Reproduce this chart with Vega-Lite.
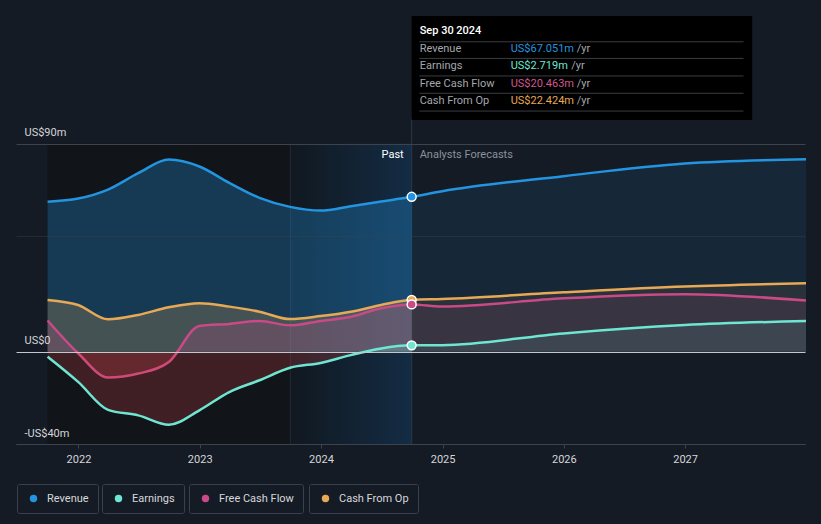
{
  "$schema": "https://vega.github.io/schema/vega-lite/v6.json",
  "width": 789,
  "height": 429,
  "autosize": {"type": "none"},
  "padding": {"left": 16, "top": 15, "right": 16, "bottom": 80},
  "background": "#151b25",
  "data": {"values": [
    {"date": "2021-09-30", "series": "Revenue", "value": 64.9},
    {"date": "2021-12-31", "series": "Revenue", "value": 66.3},
    {"date": "2022-03-31", "series": "Revenue", "value": 70.2},
    {"date": "2022-06-30", "series": "Revenue", "value": 77.3},
    {"date": "2022-09-30", "series": "Revenue", "value": 83.2},
    {"date": "2022-12-31", "series": "Revenue", "value": 80.2},
    {"date": "2023-03-31", "series": "Revenue", "value": 73.1},
    {"date": "2023-06-30", "series": "Revenue", "value": 66.6},
    {"date": "2023-09-30", "series": "Revenue", "value": 62.7},
    {"date": "2023-12-31", "series": "Revenue", "value": 61.1},
    {"date": "2024-03-31", "series": "Revenue", "value": 63.0},
    {"date": "2024-06-30", "series": "Revenue", "value": 65.0},
    {"date": "2024-09-30", "series": "Revenue", "value": 67.051},
    {"date": "2024-12-31", "series": "Revenue", "value": 69.5},
    {"date": "2025-12-31", "series": "Revenue", "value": 76.0},
    {"date": "2026-12-31", "series": "Revenue", "value": 81.5},
    {"date": "2027-12-31", "series": "Revenue", "value": 83.3},
    {"date": "2021-09-30", "series": "Earnings", "value": -2.2},
    {"date": "2021-12-31", "series": "Earnings", "value": -13.1},
    {"date": "2022-03-31", "series": "Earnings", "value": -25.2},
    {"date": "2022-06-30", "series": "Earnings", "value": -27.6},
    {"date": "2022-09-30", "series": "Earnings", "value": -31.7},
    {"date": "2022-12-31", "series": "Earnings", "value": -25.4},
    {"date": "2023-03-31", "series": "Earnings", "value": -17.5},
    {"date": "2023-06-30", "series": "Earnings", "value": -12.4},
    {"date": "2023-09-30", "series": "Earnings", "value": -7.0},
    {"date": "2023-12-31", "series": "Earnings", "value": -4.9},
    {"date": "2024-03-31", "series": "Earnings", "value": -1.5},
    {"date": "2024-06-30", "series": "Earnings", "value": 1.4},
    {"date": "2024-09-30", "series": "Earnings", "value": 2.719},
    {"date": "2024-12-31", "series": "Earnings", "value": 2.8},
    {"date": "2025-12-31", "series": "Earnings", "value": 7.9},
    {"date": "2026-12-31", "series": "Earnings", "value": 11.5},
    {"date": "2027-12-31", "series": "Earnings", "value": 13.3},
    {"date": "2021-09-30", "series": "Free Cash Flow", "value": 13.5},
    {"date": "2021-12-31", "series": "Free Cash Flow", "value": -0.7},
    {"date": "2022-03-31", "series": "Free Cash Flow", "value": -11.2},
    {"date": "2022-06-30", "series": "Free Cash Flow", "value": -9.5},
    {"date": "2022-09-30", "series": "Free Cash Flow", "value": -4.5},
    {"date": "2022-12-31", "series": "Free Cash Flow", "value": 11.1},
    {"date": "2023-03-31", "series": "Free Cash Flow", "value": 12.0},
    {"date": "2023-06-30", "series": "Free Cash Flow", "value": 13.3},
    {"date": "2023-09-30", "series": "Free Cash Flow", "value": 11.4},
    {"date": "2023-12-31", "series": "Free Cash Flow", "value": 13.3},
    {"date": "2024-03-31", "series": "Free Cash Flow", "value": 15.1},
    {"date": "2024-06-30", "series": "Free Cash Flow", "value": 18.8},
    {"date": "2024-09-30", "series": "Free Cash Flow", "value": 20.463},
    {"date": "2024-12-31", "series": "Free Cash Flow", "value": 19.5},
    {"date": "2025-12-31", "series": "Free Cash Flow", "value": 23.1},
    {"date": "2026-12-31", "series": "Free Cash Flow", "value": 24.9},
    {"date": "2027-12-31", "series": "Free Cash Flow", "value": 22.1},
    {"date": "2021-09-30", "series": "Cash From Op", "value": 22.4},
    {"date": "2021-12-31", "series": "Cash From Op", "value": 20.2},
    {"date": "2022-03-31", "series": "Cash From Op", "value": 14.0},
    {"date": "2022-06-30", "series": "Cash From Op", "value": 15.9},
    {"date": "2022-09-30", "series": "Cash From Op", "value": 19.2},
    {"date": "2022-12-31", "series": "Cash From Op", "value": 21.0},
    {"date": "2023-03-31", "series": "Cash From Op", "value": 19.5},
    {"date": "2023-06-30", "series": "Cash From Op", "value": 17.3},
    {"date": "2023-09-30", "series": "Cash From Op", "value": 14.1},
    {"date": "2023-12-31", "series": "Cash From Op", "value": 15.4},
    {"date": "2024-03-31", "series": "Cash From Op", "value": 17.3},
    {"date": "2024-06-30", "series": "Cash From Op", "value": 20.2},
    {"date": "2024-09-30", "series": "Cash From Op", "value": 22.424},
    {"date": "2024-12-31", "series": "Cash From Op", "value": 22.8},
    {"date": "2025-12-31", "series": "Cash From Op", "value": 25.7},
    {"date": "2026-12-31", "series": "Cash From Op", "value": 28.2},
    {"date": "2027-12-31", "series": "Cash From Op", "value": 29.6}
  ]},
  "layer": [
    {
      "data": {"values": [{}]},
      "mark": {"type": "rect", "fill": "#111419"},
      "encoding": {
        "x": {"datum": {"year": 2021, "month": 9, "date": 30}, "type": "temporal", "title": null,
          "scale": {"domain": [{"year": 2021, "month": 6, "date": 27}, {"year": 2027, "month": 12, "date": 28}], "nice": false},
          "axis": {"values": [{"year": 2022}, {"year": 2023}, {"year": 2024}, {"year": 2025}, {"year": 2026}, {"year": 2027}],
            "format": "%Y", "title": null, "grid": false, "domain": true, "domainColor": "#3d434d", "ticks": true, "tickSize": 4,
            "tickColor": "#3d434d", "labelPadding": 5, "labelFontSize": 11, "labelColor": "#d4d6d9", "labelFont": "Roboto"}},
        "x2": {"datum": {"year": 2023, "month": 10, "date": 1}},
        "y": {"datum": -40, "type": "quantitative", "title": null,
          "scale": {"domain": [-40, 145.8], "nice": false, "zero": false},
          "axis": {"values": [-40, 0, 50, 90], "title": null, "domain": false, "ticks": false, "tickSize": 0, "zindex": 1,
            "labelAlign": "left", "labelPadding": -8, "labelBaseline": "alphabetic", "labelOffset": -8,
            "labelFontSize": 11, "labelColor": "#d4d6d9", "labelFont": "Roboto",
            "labelExpr": "datum.value == 50 ? '' : (datum.value < 0 ? '-US$' + abs(datum.value) + 'm' : (datum.value == 0 ? 'US$0' : 'US$' + datum.value + 'm'))",
            "grid": true,
            "gridColor": {"condition": {"test": "datum.value === 0", "value": "#c4c7cc"}, "value": "#3d434d"},
            "gridOpacity": {"condition": {"test": "datum.value === 50", "value": 0.4}, "value": 1}}},
        "y2": {"datum": 90}
      }
    },
    {
      "data": {"values": [{}]},
      "mark": {"type": "rect", "fill": {"gradient": "linear", "x1": 0, "y1": 0, "x2": 1, "y2": 0,
        "stops": [{"offset": 0, "color": "#111820"}, {"offset": 1, "color": "#132c44"}]}},
      "encoding": {
        "x": {"datum": {"year": 2023, "month": 10, "date": 1}, "type": "temporal", "title": null},
        "x2": {"datum": {"year": 2024, "month": 9, "date": 30}},
        "y": {"datum": -40, "type": "quantitative", "title": null},
        "y2": {"datum": 90}
      }
    },
    {
      "data": {"values": [{}]},
      "mark": {"type": "rule", "color": "#1e2c3b", "strokeWidth": 1},
      "encoding": {
        "x": {"datum": {"year": 2023, "month": 10, "date": 1}, "type": "temporal", "title": null},
        "y": {"datum": -40, "type": "quantitative", "title": null},
        "y2": {"datum": 90}
      }
    },
    {
      "data": {"values": [{}]},
      "mark": {"type": "rule", "color": "#26394d", "strokeWidth": 1},
      "encoding": {
        "x": {"datum": {"year": 2024, "month": 9, "date": 30}, "type": "temporal", "title": null},
        "y": {"datum": -40, "type": "quantitative", "title": null},
        "y2": {"datum": 101}
      }
    },
    {
      "transform": [{"filter": {"field": "series", "equal": "Revenue"}}],
      "layer": [
        {"transform": [{"filter": {"field": "date", "lte": {"year": 2024, "month": 10, "date": 1}}}],
         "mark": {"type": "area", "interpolate": "monotone", "fill": "#2394df", "fillOpacity": 0.3},
         "encoding": {"x": {"field": "date", "type": "temporal", "title": null}, "y": {"field": "value", "type": "quantitative", "title": null}, "y2": {"datum": 0}}},
        {"transform": [{"filter": {"field": "date", "gte": {"year": 2024, "month": 9, "date": 29}}}],
         "mark": {"type": "area", "interpolate": "monotone", "fill": "#2394df", "fillOpacity": 0.1},
         "encoding": {"x": {"field": "date", "type": "temporal", "title": null}, "y": {"field": "value", "type": "quantitative", "title": null}, "y2": {"datum": 0}}},
        {"mark": {"type": "line", "interpolate": "monotone", "strokeWidth": 2.5},
         "encoding": {"x": {"field": "date", "type": "temporal", "title": null}, "y": {"field": "value", "type": "quantitative", "title": null},
           "color": {"field": "series", "type": "nominal", "scale": {"domain": ["Revenue"], "range": ["#2394df"]},
             "legend": {"orient": "none", "legendX": 1, "legendY": 469, "title": null, "symbolType": "circle", "symbolFillColor": "#2394df", "symbolStrokeWidth": 0}}}},
        {"transform": [{"filter": {"field": "date", "range": [{"year": 2024, "month": 9, "date": 29}, {"year": 2024, "month": 10, "date": 1}]}}],
         "mark": {"type": "point", "filled": true, "size": 80, "stroke": "#ffffff", "strokeWidth": 1.5, "opacity": 1},
         "encoding": {"x": {"field": "date", "type": "temporal", "title": null}, "y": {"field": "value", "type": "quantitative", "title": null},
           "color": {"field": "series", "type": "nominal", "scale": {"domain": ["Revenue"], "range": ["#2394df"]},
             "legend": {"orient": "none", "legendX": 1, "legendY": 469, "title": null, "symbolType": "circle", "symbolFillColor": "#2394df", "symbolStrokeWidth": 0}}}}
      ]
    },
    {
      "transform": [{"filter": {"field": "series", "equal": "Cash From Op"}}],
      "layer": [
        {"transform": [{"filter": {"field": "date", "lte": {"year": 2024, "month": 10, "date": 1}}}],
         "mark": {"type": "area", "interpolate": "monotone", "fill": "#e7a955", "fillOpacity": 0.22},
         "encoding": {"x": {"field": "date", "type": "temporal", "title": null}, "y": {"field": "value", "type": "quantitative", "title": null}, "y2": {"datum": 0}}},
        {"transform": [{"filter": {"field": "date", "gte": {"year": 2024, "month": 9, "date": 29}}}],
         "mark": {"type": "area", "interpolate": "monotone", "fill": "#e7a955", "fillOpacity": 0.09},
         "encoding": {"x": {"field": "date", "type": "temporal", "title": null}, "y": {"field": "value", "type": "quantitative", "title": null}, "y2": {"datum": 0}}},
        {"mark": {"type": "line", "interpolate": "monotone", "strokeWidth": 2.5},
         "encoding": {"x": {"field": "date", "type": "temporal", "title": null}, "y": {"field": "value", "type": "quantitative", "title": null},
           "color": {"field": "series", "type": "nominal", "scale": {"domain": ["Cash From Op"], "range": ["#e7a955"]},
             "legend": {"orient": "none", "legendX": 293, "legendY": 469, "title": null, "symbolType": "circle", "symbolFillColor": "#e7a955", "symbolStrokeWidth": 0}}}},
        {"transform": [{"filter": {"field": "date", "range": [{"year": 2024, "month": 9, "date": 29}, {"year": 2024, "month": 10, "date": 1}]}}],
         "mark": {"type": "point", "filled": true, "size": 80, "stroke": "#ffffff", "strokeWidth": 1.5, "opacity": 1},
         "encoding": {"x": {"field": "date", "type": "temporal", "title": null}, "y": {"field": "value", "type": "quantitative", "title": null},
           "color": {"field": "series", "type": "nominal", "scale": {"domain": ["Cash From Op"], "range": ["#e7a955"]},
             "legend": {"orient": "none", "legendX": 293, "legendY": 469, "title": null, "symbolType": "circle", "symbolFillColor": "#e7a955", "symbolStrokeWidth": 0}}}}
      ]
    },
    {
      "transform": [{"filter": {"field": "series", "equal": "Free Cash Flow"}}],
      "layer": [
        {"transform": [{"filter": {"field": "date", "lte": {"year": 2024, "month": 10, "date": 1}}}],
         "mark": {"type": "area", "interpolate": "monotone", "fillOpacity": 0.22,
           "fill": {"gradient": "linear", "x1": 0, "y1": 0, "x2": 0, "y2": 1,
             "stops": [{"offset": 0, "color": "#c94a86"}, {"offset": 0.645, "color": "#c94a86"}, {"offset": 0.648, "color": "#e5484d"}, {"offset": 1, "color": "#e5484d"}]}},
         "encoding": {"x": {"field": "date", "type": "temporal", "title": null}, "y": {"field": "value", "type": "quantitative", "title": null}, "y2": {"datum": 0}}},
        {"transform": [{"filter": {"field": "date", "gte": {"year": 2024, "month": 9, "date": 29}}}],
         "mark": {"type": "area", "interpolate": "monotone", "fill": "#c94a86", "fillOpacity": 0.1},
         "encoding": {"x": {"field": "date", "type": "temporal", "title": null}, "y": {"field": "value", "type": "quantitative", "title": null}, "y2": {"datum": 0}}},
        {"mark": {"type": "line", "interpolate": "monotone", "strokeWidth": 2.5},
         "encoding": {"x": {"field": "date", "type": "temporal", "title": null}, "y": {"field": "value", "type": "quantitative", "title": null},
           "color": {"field": "series", "type": "nominal", "scale": {"domain": ["Free Cash Flow"], "range": ["#c94a86"]},
             "legend": {"orient": "none", "legendX": 173, "legendY": 469, "title": null, "symbolType": "circle", "symbolFillColor": "#c94a86", "symbolStrokeWidth": 0}}}},
        {"transform": [{"filter": {"field": "date", "range": [{"year": 2024, "month": 9, "date": 29}, {"year": 2024, "month": 10, "date": 1}]}}],
         "mark": {"type": "point", "filled": true, "size": 80, "stroke": "#ffffff", "strokeWidth": 1.5, "opacity": 1},
         "encoding": {"x": {"field": "date", "type": "temporal", "title": null}, "y": {"field": "value", "type": "quantitative", "title": null},
           "color": {"field": "series", "type": "nominal", "scale": {"domain": ["Free Cash Flow"], "range": ["#c94a86"]},
             "legend": {"orient": "none", "legendX": 173, "legendY": 469, "title": null, "symbolType": "circle", "symbolFillColor": "#c94a86", "symbolStrokeWidth": 0}}}}
      ]
    },
    {
      "transform": [{"filter": {"field": "series", "equal": "Earnings"}}],
      "layer": [
        {"transform": [{"filter": {"field": "date", "lte": {"year": 2024, "month": 10, "date": 1}}}],
         "mark": {"type": "area", "interpolate": "monotone", "fillOpacity": 0.22,
           "fill": {"gradient": "linear", "x1": 0, "y1": 0, "x2": 0, "y2": 1,
             "stops": [{"offset": 0, "color": "#6ee6d2"}, {"offset": 0.078, "color": "#6ee6d2"}, {"offset": 0.081, "color": "#e5484d"}, {"offset": 1, "color": "#e5484d"}]}},
         "encoding": {"x": {"field": "date", "type": "temporal", "title": null}, "y": {"field": "value", "type": "quantitative", "title": null}, "y2": {"datum": 0}}},
        {"transform": [{"filter": {"field": "date", "gte": {"year": 2024, "month": 9, "date": 29}}}],
         "mark": {"type": "area", "interpolate": "monotone", "fill": "#6ee6d2", "fillOpacity": 0.1},
         "encoding": {"x": {"field": "date", "type": "temporal", "title": null}, "y": {"field": "value", "type": "quantitative", "title": null}, "y2": {"datum": 0}}},
        {"mark": {"type": "line", "interpolate": "monotone", "strokeWidth": 2.5},
         "encoding": {"x": {"field": "date", "type": "temporal", "title": null}, "y": {"field": "value", "type": "quantitative", "title": null},
           "color": {"field": "series", "type": "nominal", "scale": {"domain": ["Earnings"], "range": ["#6ee6d2"]},
             "legend": {"orient": "none", "legendX": 86, "legendY": 469, "title": null, "symbolType": "circle", "symbolFillColor": "#6ee6d2", "symbolStrokeWidth": 0}}}},
        {"transform": [{"filter": {"field": "date", "range": [{"year": 2024, "month": 9, "date": 29}, {"year": 2024, "month": 10, "date": 1}]}}],
         "mark": {"type": "point", "filled": true, "size": 80, "stroke": "#ffffff", "strokeWidth": 1.5, "opacity": 1},
         "encoding": {"x": {"field": "date", "type": "temporal", "title": null}, "y": {"field": "value", "type": "quantitative", "title": null},
           "color": {"field": "series", "type": "nominal", "scale": {"domain": ["Earnings"], "range": ["#6ee6d2"]},
             "legend": {"orient": "none", "legendX": 86, "legendY": 469, "title": null, "symbolType": "circle", "symbolFillColor": "#6ee6d2", "symbolStrokeWidth": 0}}}}
      ]
    },
    {
      "data": {"values": [{}]},
      "mark": {"type": "text", "text": "Past", "align": "right", "baseline": "middle", "dx": -8, "fontSize": 11, "color": "#ffffff"},
      "encoding": {
        "x": {"datum": {"year": 2024, "month": 9, "date": 30}, "type": "temporal", "title": null},
        "y": {"datum": 84.95, "type": "quantitative", "title": null}
      }
    },
    {
      "data": {"values": [{}]},
      "mark": {"type": "text", "text": "Analysts Forecasts", "align": "left", "baseline": "middle", "dx": 8, "fontSize": 11, "color": "#8b919a"},
      "encoding": {
        "x": {"datum": {"year": 2024, "month": 9, "date": 30}, "type": "temporal", "title": null},
        "y": {"datum": 84.95, "type": "quantitative", "title": null}
      }
    },
    {
      "data": {"values": [{}]},
      "mark": {"type": "rect", "fill": "#000000"},
      "encoding": {
        "x": {"datum": {"year": 2024, "month": 9, "date": 30}, "type": "temporal", "title": null},
        "x2": {"datum": {"year": 2027, "month": 7, "date": 22}},
        "y": {"datum": 100.3, "type": "quantitative", "title": null},
        "y2": {"datum": 145.4}
      }
    },
    {
      "data": {"values": [{}]},
      "mark": {"type": "rule", "color": "#3a3d42", "strokeWidth": 1},
      "encoding": {
        "x": {"datum": {"year": 2024, "month": 10, "date": 23}, "type": "temporal", "title": null},
        "x2": {"datum": {"year": 2027, "month": 6, "date": 26}},
        "y": {"datum": 134.2, "type": "quantitative", "title": null}
      }
    },
    {
      "data": {"values": [{}]},
      "mark": {"type": "rule", "color": "#3a3d42", "strokeWidth": 1},
      "encoding": {
        "x": {"datum": {"year": 2024, "month": 10, "date": 23}, "type": "temporal", "title": null},
        "x2": {"datum": {"year": 2027, "month": 6, "date": 26}},
        "y": {"datum": 127.0, "type": "quantitative", "title": null}
      }
    },
    {
      "data": {"values": [{}]},
      "mark": {"type": "rule", "color": "#3a3d42", "strokeWidth": 1},
      "encoding": {
        "x": {"datum": {"year": 2024, "month": 10, "date": 23}, "type": "temporal", "title": null},
        "x2": {"datum": {"year": 2027, "month": 6, "date": 26}},
        "y": {"datum": 119.4, "type": "quantitative", "title": null}
      }
    },
    {
      "data": {"values": [{}]},
      "mark": {"type": "rule", "color": "#3a3d42", "strokeWidth": 1},
      "encoding": {
        "x": {"datum": {"year": 2024, "month": 10, "date": 23}, "type": "temporal", "title": null},
        "x2": {"datum": {"year": 2027, "month": 6, "date": 26}},
        "y": {"datum": 111.9, "type": "quantitative", "title": null}
      }
    },
    {
      "data": {"values": [{}]},
      "mark": {"type": "rule", "color": "#3a3d42", "strokeWidth": 1},
      "encoding": {
        "x": {"datum": {"year": 2024, "month": 10, "date": 23}, "type": "temporal", "title": null},
        "x2": {"datum": {"year": 2027, "month": 6, "date": 26}},
        "y": {"datum": 104.2, "type": "quantitative", "title": null}
      }
    },
    {
      "data": {"values": [{}]},
      "mark": {"type": "text", "text": "Sep 30 2024", "align": "left", "baseline": "middle", "dx": 8, "fontSize": 11, "fontWeight": 500, "color": "#ffffff"},
      "encoding": {
        "x": {"datum": {"year": 2024, "month": 9, "date": 30}, "type": "temporal", "title": null},
        "y": {"datum": 138.85, "type": "quantitative", "title": null}
      }
    },
    {
      "data": {"values": [{}]},
      "mark": {"type": "text", "text": ["Revenue", "Earnings", "Free Cash Flow", "Cash From Op"], "align": "left", "baseline": "middle", "dx": 8, "fontSize": 11, "lineHeight": 17.13, "color": "#a3a7ad"},
      "encoding": {
        "x": {"datum": {"year": 2024, "month": 9, "date": 30}, "type": "temporal", "title": null},
        "y": {"datum": 130.95, "type": "quantitative", "title": null}
      }
    },
    {
      "data": {"values": [{}]},
      "mark": {"type": "text", "text": "/yr", "align": "left", "baseline": "middle", "dx": 165, "fontSize": 11, "color": "#a3a7ad"},
      "encoding": {
        "x": {"datum": {"year": 2024, "month": 9, "date": 30}, "type": "temporal", "title": null},
        "y": {"datum": 130.95, "type": "quantitative", "title": null}
      }
    },
    {
      "data": {"values": [{}]},
      "mark": {"type": "text", "text": "/yr", "align": "left", "baseline": "middle", "dx": 159.5, "fontSize": 11, "color": "#a3a7ad"},
      "encoding": {
        "x": {"datum": {"year": 2024, "month": 9, "date": 30}, "type": "temporal", "title": null},
        "y": {"datum": 123.53, "type": "quantitative", "title": null}
      }
    },
    {
      "data": {"values": [{}]},
      "mark": {"type": "text", "text": "/yr", "align": "left", "baseline": "middle", "dx": 165, "fontSize": 11, "color": "#a3a7ad"},
      "encoding": {
        "x": {"datum": {"year": 2024, "month": 9, "date": 30}, "type": "temporal", "title": null},
        "y": {"datum": 116.11, "type": "quantitative", "title": null}
      }
    },
    {
      "data": {"values": [{}]},
      "mark": {"type": "text", "text": "/yr", "align": "left", "baseline": "middle", "dx": 165, "fontSize": 11, "color": "#a3a7ad"},
      "encoding": {
        "x": {"datum": {"year": 2024, "month": 9, "date": 30}, "type": "temporal", "title": null},
        "y": {"datum": 108.69, "type": "quantitative", "title": null}
      }
    },
    {
      "data": {"values": [{}]},
      "mark": {"type": "text", "text": "US$67.051m", "align": "left", "baseline": "middle", "dx": 99, "fontSize": 11, "color": "#2394df"},
      "encoding": {
        "x": {"datum": {"year": 2024, "month": 9, "date": 30}, "type": "temporal", "title": null},
        "y": {"datum": 130.95, "type": "quantitative", "title": null}
      }
    },
    {
      "data": {"values": [{}]},
      "mark": {"type": "text", "text": "US$2.719m", "align": "left", "baseline": "middle", "dx": 99, "fontSize": 11, "color": "#6ee6d2"},
      "encoding": {
        "x": {"datum": {"year": 2024, "month": 9, "date": 30}, "type": "temporal", "title": null},
        "y": {"datum": 123.53, "type": "quantitative", "title": null}
      }
    },
    {
      "data": {"values": [{}]},
      "mark": {"type": "text", "text": "US$20.463m", "align": "left", "baseline": "middle", "dx": 99, "fontSize": 11, "color": "#d2558f"},
      "encoding": {
        "x": {"datum": {"year": 2024, "month": 9, "date": 30}, "type": "temporal", "title": null},
        "y": {"datum": 116.11, "type": "quantitative", "title": null}
      }
    },
    {
      "data": {"values": [{}]},
      "mark": {"type": "text", "text": "US$22.424m", "align": "left", "baseline": "middle", "dx": 99, "fontSize": 11, "color": "#e7a955"},
      "encoding": {
        "x": {"datum": {"year": 2024, "month": 9, "date": 30}, "type": "temporal", "title": null},
        "y": {"datum": 108.69, "type": "quantitative", "title": null}
      }
    }
  ],
  "resolve": {"scale": {"color": "independent"}},
  "config": {
    "font": "Roboto",
    "view": {"stroke": null},
    "legend": {
      "strokeColor": "#3b414c",
      "fillColor": "#151b25",
      "cornerRadius": 2,
      "padding": 9,
      "symbolOffset": 2,
      "symbolSize": 55,
      "labelOffset": 8,
      "labelFontSize": 11,
      "labelFont": "Roboto",
      "labelColor": "#d6d8db",
      "symbolOpacity": 1
    }
  }
}
